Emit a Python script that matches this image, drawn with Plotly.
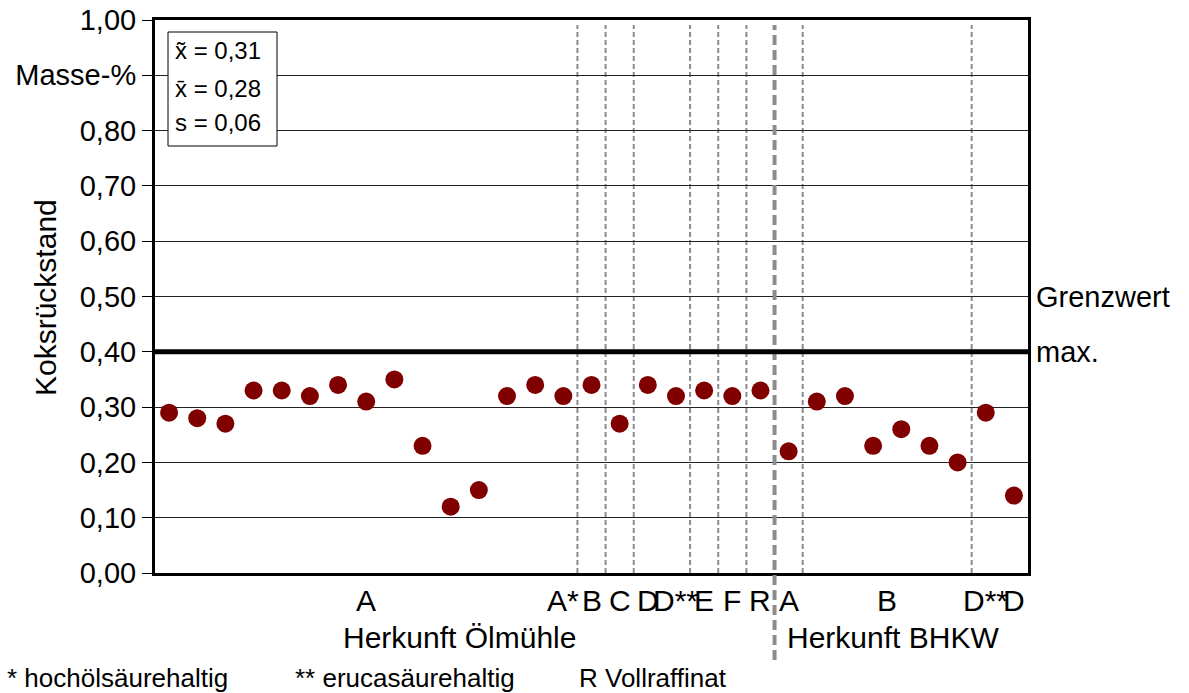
import plotly.graph_objects as go

# ---- data ----
values = [0.29, 0.28, 0.27, 0.33, 0.33, 0.32, 0.34, 0.31, 0.35, 0.23,
          0.12, 0.15, 0.32, 0.34, 0.32, 0.34, 0.27, 0.34, 0.32, 0.33,
          0.32, 0.33, 0.22, 0.31, 0.32, 0.23, 0.26, 0.23, 0.20, 0.29, 0.14]
sample_idx = list(range(len(values)))

cat_labels = ["A", "A*", "B", "C", "D", "D**", "E", "F", "R", "A", "B", "D**", "D"]
cat_pos = [7, 14, 15, 16, 17, 18, 19, 20, 21, 22, 25.5, 29, 30]

group_sep = [14.5, 15.5, 16.5, 18.5, 19.5, 20.5, 22.5, 28.5]
origin_sep = 21.5

group_titles = ["Herkunft Ölmühle", "Herkunft BHKW"]
group_title_pos = [10.3, 25.7]

y_ticks = [0.0, 0.1, 0.2, 0.3, 0.4, 0.5, 0.6, 0.7, 0.8, 0.9, 1.0]
y_ticktext = ["0,00", "0,10", "0,20", "0,30", "0,40", "0,50", "0,60", "0,70", "0,80", "Masse-%", "1,00"]

limit_value = 0.40
stats_lines = ["x\u0303 = 0,31", "x\u0304 = 0,28", "s = 0,06"]
footnotes = ["* hochölsäurehaltig", "** erucasäurehaltig", "R Vollraffinat"]

FONT = "Liberation Sans, Arial, sans-serif"

# plot-area geometry in page pixels
PL, PT, PW, PH = 155, 20, 873, 553
W, H = 1189, 693


def px(xp):
    return (xp - PL) / PW


def py(yp):
    return (PT + PH - yp) / PH


fig = go.Figure()
fig.add_trace(go.Scatter(
    x=sample_idx, y=values, mode="markers",
    marker=dict(size=18, color="#800000"),
    showlegend=False, hoverinfo="y"))

shapes = []
for s in group_sep:
    shapes.append(dict(type="line", xref="x", yref="paper", x0=s, x1=s, y0=0, y1=py(25),
                       line=dict(color="#8c8c8c", width=2, dash="5px,3px"), layer="below"))
shapes.append(dict(type="line", xref="x", yref="paper", x0=origin_sep, x1=origin_sep, y0=py(660), y1=py(25),
                   line=dict(color="#8c8c8c", width=4, dash="10px,5px"), layer="above"))
shapes.append(dict(type="line", xref="paper", yref="y", x0=0, x1=1, y0=limit_value, y1=limit_value,
                   line=dict(color="black", width=5)))
# stats box
shapes.append(dict(type="rect", xref="paper", yref="paper",
                   x0=px(168), x1=px(277), y0=py(146), y1=py(32),
                   line=dict(color="black", width=1), fillcolor="white", layer="above"))

annotations = []
for lbl, p in zip(cat_labels, cat_pos):
    annotations.append(dict(x=p, y=py(600), xref="x", yref="paper", text=lbl, showarrow=False,
                            xanchor="center", yanchor="middle", font=dict(size=30, color="black", family=FONT)))
for t, p in zip(group_titles, group_title_pos):
    annotations.append(dict(x=p, y=py(637), xref="x", yref="paper", text=t, showarrow=False,
                            xanchor="center", yanchor="middle", font=dict(size=30, color="black", family=FONT)))
foot_x = [5, 293, 577]
for t, fx in zip(footnotes, foot_x):
    annotations.append(dict(x=px(fx), y=py(678), xref="paper", yref="paper", text=t,
                            showarrow=False, xanchor="left", yanchor="middle",
                            font=dict(size=26, color="black", family=FONT)))
stat_y = [50, 88, 122]
for t, sy in zip(stats_lines, stat_y):
    annotations.append(dict(x=px(173), y=py(sy), xref="paper", yref="paper", text=t,
                            showarrow=False, xanchor="left", yanchor="middle",
                            font=dict(size=24, color="black", family=FONT)))
annotations.append(dict(x=px(1034), y=0.50, xref="paper", yref="y", text="Grenzwert",
                        showarrow=False, xanchor="left", yanchor="middle",
                        font=dict(size=29, color="black", family=FONT)))
annotations.append(dict(x=px(1034), y=0.40, xref="paper", yref="y", text="max.",
                        showarrow=False, xanchor="left", yanchor="middle",
                        font=dict(size=29, color="black", family=FONT)))
annotations.append(dict(x=px(45), y=py(298), xref="paper", yref="paper", text="Koksrückstand",
                        showarrow=False, textangle=-90, xanchor="center", yanchor="middle",
                        font=dict(size=30, color="black", family=FONT)))

fig.update_layout(
    width=W, height=H,
    margin=dict(l=PL, r=W - PL - PW, t=PT, b=H - PT - PH, autoexpand=False),
    paper_bgcolor="white", plot_bgcolor="white",
    font=dict(family=FONT, color="black"),
    shapes=shapes, annotations=annotations,
    xaxis=dict(range=[-0.5, 30.5], showticklabels=False, showgrid=False, zeroline=False,
               showline=True, linecolor="black", linewidth=3, mirror=True, ticks=""),
    yaxis=dict(range=[0, 1.0], tickvals=y_ticks, ticktext=y_ticktext, showgrid=True,
               gridcolor="#222222", gridwidth=1, zeroline=False, showline=True, linecolor="black",
               linewidth=3, mirror=True, ticks="outside", ticklen=10, tickcolor="black", tickwidth=1,
               ticklabeloverflow="allow",
               tickfont=dict(size=29, color="black", family=FONT)),
)

fig.write_html("out.html",
               config={"displayModeBar": False},
               post_script="document.body.style.margin='0';document.body.style.overflow='hidden';")
